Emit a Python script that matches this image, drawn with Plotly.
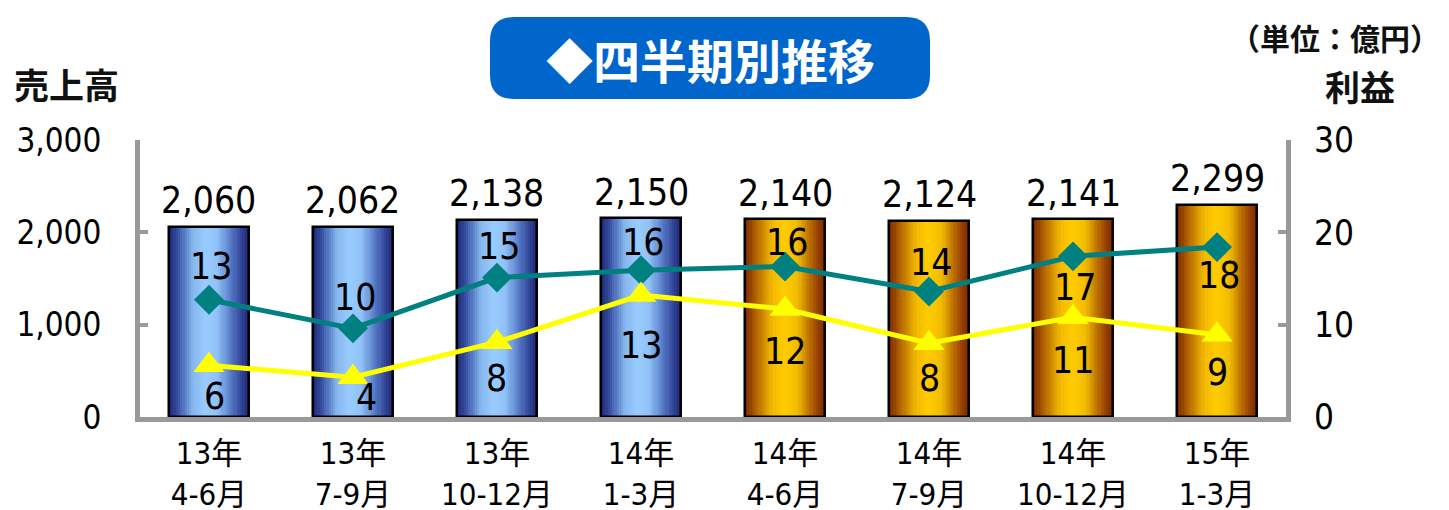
import plotly.graph_objects as go

# ---- data ----
quarters = ["13年<br>4-6月", "13年<br>7-9月", "13年<br>10-12月", "14年<br>1-3月",
            "14年<br>4-6月", "14年<br>7-9月", "14年<br>10-12月", "15年<br>1-3月"]
sales = [2060, 2062, 2138, 2150, 2140, 2124, 2141, 2299]
profit_teal = [12.7, 9.6, 15.1, 15.9, 16.3, 13.6, 17.4, 18.4]
profit_yellow = [5.6, 4.3, 8.1, 13.2, 11.7, 8.0, 10.8, 8.9]
bar_style = ["blue"] * 4 + ["gold"] * 4

# ---- styling ----
W, H = 1449, 510
ML, MR, MT, MB = 140, 163, 140, 93
X_RANGE = [-0.479, 7.479]
NUM_FONT = "Liberation Sans Narrow, DejaVu Sans Condensed, Noto Sans CJK JP"
JP_BOLD = "Noto Sans CJK JP"
AXIS_GRAY = "#999999"
BAR_W = 0.556
N_STRIPS = 36

gradients = {
    "blue": [(0.0, "#1b2270"), (0.12, "#3a55a8"), (0.3, "#86b6ee"), (0.45, "#99ccff"),
             (0.6, "#90c2f8"), (0.8, "#4f6fbf"), (1.0, "#1a1f6e")],
    "gold": [(0.0, "#782600"), (0.14, "#b46400"), (0.33, "#efb600"), (0.48, "#ffcc00"),
             (0.65, "#f3bd00"), (0.85, "#ac5a00"), (1.0, "#762000")],
}


def hex_rgb(h):
    h = h.lstrip("#")
    return tuple(int(h[i:i + 2], 16) for i in (0, 2, 4))


def grad_color(stops, t):
    for (t0, c0), (t1, c1) in zip(stops, stops[1:]):
        if t0 <= t <= t1:
            f = (t - t0) / (t1 - t0)
            a, b = hex_rgb(c0), hex_rgb(c1)
            r, g, bl = (round(a[k] + (b[k] - a[k]) * f) for k in range(3))
            return f"rgb({r},{g},{bl})"
    return stops[-1][1]


fig = go.Figure()
xs = list(range(len(quarters)))

# cylinder-like shading: each bar is built from thin vertical strips
strip_w = BAR_W / N_STRIPS
for s in range(N_STRIPS):
    t = (s + 0.5) / N_STRIPS
    colors = [grad_color(gradients[k], t) for k in bar_style]
    fig.add_trace(go.Bar(
        x=xs, y=sales, width=strip_w * 1.06, offset=-BAR_W / 2 + s * strip_w,
        marker=dict(color=colors, line=dict(width=0)),
        hoverinfo="skip", showlegend=False,
    ))

# bar outline
fig.add_trace(go.Bar(
    x=xs, y=sales, width=BAR_W, offset=-BAR_W / 2,
    marker=dict(color="rgba(0,0,0,0)", line=dict(color="black", width=2.5)),
    showlegend=False,
))

# profit lines on the right axis
fig.add_trace(go.Scatter(
    x=xs, y=profit_teal, yaxis="y2", mode="lines+markers",
    line=dict(color="#008080", width=5),
    marker=dict(symbol="diamond", size=23, color="#008080"),
    showlegend=False,
))
fig.add_trace(go.Scatter(
    x=xs, y=profit_yellow, yaxis="y2", mode="lines+markers",
    line=dict(color="#ffff00", width=5),
    marker=dict(symbol="triangle-up", size=27, color="#ffff00"),
    showlegend=False,
))

annotations = []
# sales values above bars
for i, v in enumerate(sales):
    annotations.append(dict(x=i, y=v, xref="x", yref="y", text=f"{v:,}", showarrow=False,
                            yshift=26, font=dict(family=NUM_FONT, size=37, color="black")))

# profit values
teal_shift = [33, 31, 31, 28, 24, 29, -31, -28]
yellow_shift = [-31, -20, -36, -50, -43, -35, -43, -38]
yellow_xshift = [6, 14, 0, 0, 0, 0, 0, 0]
for i, v in enumerate(profit_teal):
    annotations.append(dict(x=i, y=v, xref="x", yref="y2", text=f"{v:.0f}", showarrow=False,
                            yshift=teal_shift[i], xshift=2,
                            font=dict(family=NUM_FONT, size=37, color="black")))
for i, v in enumerate(profit_yellow):
    annotations.append(dict(x=i, y=v, xref="x", yref="y2", text=f"{v:.0f}", showarrow=False,
                            yshift=yellow_shift[i], xshift=yellow_xshift[i],
                            font=dict(family=NUM_FONT, size=37, color="black")))

PW, PH = W - ML - MR, H - MT - MB


def px_x(x):
    return (x - ML) / PW


def px_y(y):
    return (H - MB - y) / PH


def label(x, y, text, size, color="#111", anchor="center"):
    return dict(x=px_x(x), y=px_y(y), xref="paper", yref="paper", text=text,
                showarrow=False, xanchor=anchor, yanchor="middle",
                font=dict(family=JP_BOLD, size=size, color=color))


# axis titles, unit and heading
annotations += [
    label(12, 83, "<b>売上高</b>", 35, anchor="left"),
    label(1360, 85, "<b>利益</b>", 35),
    label(1442, 37, "<b>（単位：億円）</b>", 30, anchor="right"),
    label(710, 58, "<b>◆四半期別推移</b>", 47, color="white"),
]


# rounded title box
def rounded_rect(x0, y0, x1, y1, r):
    X0, X1 = px_x(x0), px_x(x1)
    Y0, Y1 = px_y(y0), px_y(y1)  # Y0 top, Y1 bottom
    rx, ry = r / PW, r / PH
    return (f"M {X0 + rx},{Y0} L {X1 - rx},{Y0} Q {X1},{Y0} {X1},{Y0 - ry} "
            f"L {X1},{Y1 + ry} Q {X1},{Y1} {X1 - rx},{Y1} "
            f"L {X0 + rx},{Y1} Q {X0},{Y1} {X0},{Y1 + ry} "
            f"L {X0},{Y0 - ry} Q {X0},{Y0} {X0 + rx},{Y0} Z")


shapes = [dict(type="path", xref="paper", yref="paper",
               path=rounded_rect(490, 17, 930, 99, 24),
               fillcolor="#0066cc", line=dict(width=0), layer="below")]

fig.update_layout(
    width=W, height=H, autosize=False,
    margin=dict(l=ML, r=MR, t=MT, b=MB, pad=0, autoexpand=False),
    paper_bgcolor="white", plot_bgcolor="white",
    barmode="overlay", bargap=0,
    showlegend=False,
    annotations=annotations, shapes=shapes,
    xaxis=dict(range=X_RANGE, tickvals=xs, ticktext=quarters,
               showline=True, linecolor=AXIS_GRAY, linewidth=5, ticks="",
               showgrid=False, zeroline=False, fixedrange=True, automargin=False,
               tickfont=dict(family=NUM_FONT, size=31, color="black"),
               ticklabelstandoff=5),
    yaxis=dict(range=[0, 3000], dtick=1000, tickformat=",", showgrid=False, zeroline=False,
               showline=True, linecolor=AXIS_GRAY, linewidth=5, automargin=False,
               ticks="inside", ticklen=8, tickwidth=4, tickcolor=AXIS_GRAY,
               tickfont=dict(family=NUM_FONT, size=33, color="black"),
               ticklabelstandoff=27),
    yaxis2=dict(range=[0, 30], dtick=10, overlaying="y", side="right", showgrid=False,
                zeroline=False, showline=True, linecolor=AXIS_GRAY, linewidth=5,
                automargin=False,
                ticks="inside", ticklen=8, tickwidth=4, tickcolor=AXIS_GRAY,
                tickfont=dict(family=NUM_FONT, size=35, color="black"),
                ticklabelstandoff=16),
)

fig.write_html("out.html")
